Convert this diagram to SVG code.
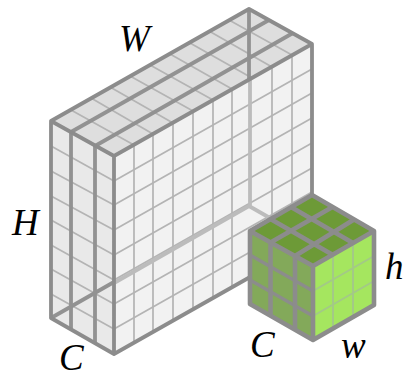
<svg xmlns="http://www.w3.org/2000/svg" width="405" height="378" viewBox="0 0 405 378">
<style>
.edge{fill:none;stroke:#8c8c8c;stroke-width:3.8;stroke-linejoin:round;stroke-linecap:round}
.rib{fill:none;stroke:#929292;stroke-width:3.8}
.thin{fill:none;stroke:#b4b4b4;stroke-width:1.7}
.faint{fill:none;stroke:#bcbcbc;stroke-width:3.8}
.cubeedge{fill:none;stroke:#8c8c8c;stroke-width:4.6;stroke-linejoin:round}
.cubethin{fill:none;stroke:#a3c987;stroke-width:2}
text{font-family:"Liberation Serif","DejaVu Serif",serif;font-style:italic;font-size:37px;fill:#000}
</style>
<g id="large-box">
<polygon points="51,121 114,156 114,354 51,318" fill="#e9e9e9"/>
<polygon points="114,156 312,44 312,242 114,354" fill="#f2f2f2"/>
<polygon points="51,121 249,9 312,44 114,156" fill="#dedede"/>
<path class="thin" d="M134,145V343M153,134V332M173,123V321M193,111V309M213,100V298M232,89V287M272,67V265M292,55V253"/>
<path class="thin" d="M114,181L312,69M114,205L312,93M114,230L312,118M114,255L312,143M114,280L312,168M114,304L312,192M114,329L312,217"/>
<path class="thin" d="M51,146L114,181M51,171L114,205M51,196L114,230M51,220L114,255M51,245L114,280M51,269L114,304M51,294L114,329"/>
<path class="thin" d="M71,110L134,145M91,98L153,134M110,87L173,123M130,76L193,111M150,65L213,100M170,54L232,89M190,43L252,78M209,31L272,67M229,20L292,55" stroke="#a8a8a8"/>
<path class="faint" d="M250,80V206M114,283L249,206L312,242"/>
<path class="rib" d="M51,318L114,282"/>
<path class="rib" d="M249,9V80"/>
<path class="rib" d="M71,132V329M95,146V343"/>
<path class="rib" d="M71,132L269,20M95,146L293,33"/>
<path class="edge" d="M51,121L249,9L312,44V242L114,354L51,318ZM51,121L114,156L312,44M114,156V354"/>
</g>
<g id="small-cube">
<polygon points="250,231 313,266 313,340 250,304" fill="#83a95a"/>
<polygon points="313,266 374,231 374,305 313,340" fill="#a5e65f"/>
<polygon points="250,231 312,195 374,231 313,266" fill="#6d9a37"/>
<path class="cubethin" d="M333,255V329M353,243V317M313,291L374,256M313,316L374,281"/>
<path stroke="#8c8c8c" stroke-width="3.200" fill="none" d="M250,255L313,291M250,280L313,316"/>
<path class="cubeedge" d="M270.500,242.500V316M295,256V330M270.500,242.500L332.500,207M295,256L354,219.500M291,207L353,243M270.500,219L333,255"/>
<path class="cubeedge" d="M250,231L312,195L374,231V305L313,340L250,304ZM250,231L313,266L374,231M313,266V340"/>
</g>
<g id="labels">
<text x="119" y="51">W</text>
<text x="12" y="235">H</text>
<text x="59" y="370">C</text>
<text x="250" y="357">C</text>
<text x="341" y="358">w</text>
<text x="385" y="279">h</text>
</g>
</svg>
